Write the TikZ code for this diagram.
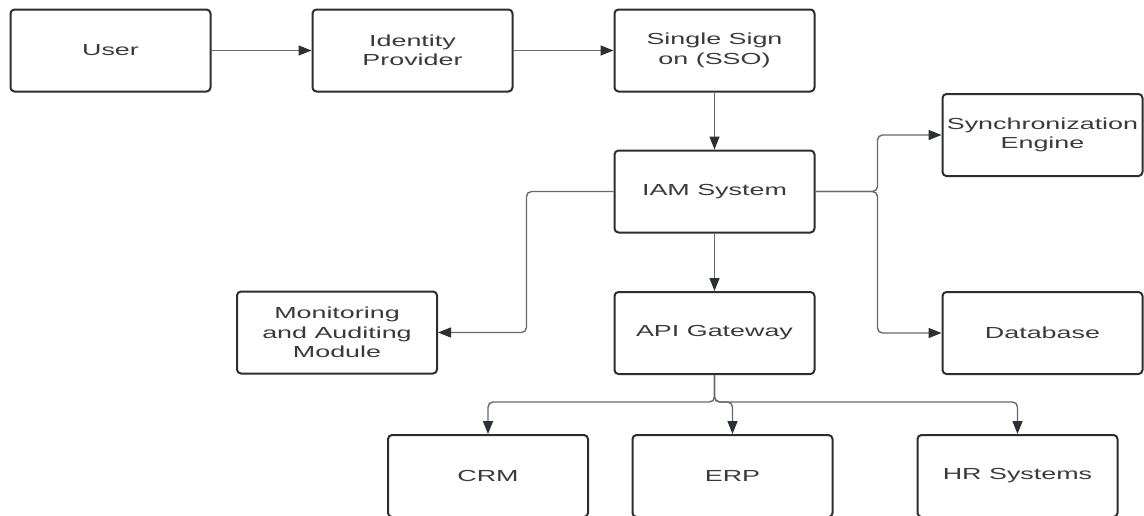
\documentclass[tikz,border=0pt]{standalone}
\usepackage{fontspec}
\newfontfamily\boxfont{Liberation Sans}[FakeStretch=1.68]
\usetikzlibrary{arrows.meta}
\definecolor{boxline}{RGB}{45,45,48}
\definecolor{txt}{RGB}{58,58,60}
\definecolor{conncol}{RGB}{105,105,110}
\definecolor{tipcol}{RGB}{45,47,54}
\begin{document}
\begin{tikzpicture}[x=1pt,y=-1pt,
  box/.style={draw=boxline, line width=2pt, rounded corners=4pt, fill=white,
    minimum width=200pt, minimum height=82pt, inner sep=0pt, align=center,
    text=txt, font=\boxfont\fontsize{16}{19.5}\selectfont},
  conn/.style={draw=conncol, line width=1.4pt, rounded corners=5pt,
    -{Triangle[length=13pt,width=10pt,fill=tipcol,color=tipcol]}}]
\useasboundingbox (0,0) rectangle (1144,515);
\clip (0,0) rectangle (1144,515);
\fill[white] (0,0) rectangle (1144,515);
\node[box] (user) at (110.5,50.5) {User};
\node[box] (idp)  at (412.5,50.5) {Identity\\Provider};
\node[box] (sso)  at (714.5,50.5) {Single Sign\\on (SSO)};
\node[box] (iam)  at (714.5,191.5) {IAM System};
\node[box] (sync) at (1042.5,135) {Synchronization\\Engine};
\node[box] (mon)  at (337,332.5) {Monitoring\\and Auditing\\Module};
\node[box] (api)  at (714.5,333) {API Gateway};
\node[box] (db)   at (1042.5,333) {Database};
\node[box] (crm)  at (488,476) {CRM};
\node[box] (erp)  at (732.5,476) {ERP};
\node[box] (hr)   at (1017.5,476) {HR Systems};
\draw[conn] (user) -- (idp);
\draw[conn] (idp) -- (sso);
\draw[conn] (sso) -- (iam);
\draw[conn] (iam) -- (api);
\draw[conn] (iam.east) -- ++(62,0) |- (sync.west);
\draw[conn] (iam.east) -- ++(62,0) |- (db.west);
\draw[conn] (iam.west) -- ++(-87,0) |- (mon.east);
\draw[conn] (api.south) -- ++(0,27) -| (crm.north);
\draw[conn] (api.south) -- ++(0,27) -| (erp.north);
\draw[conn] (api.south) -- ++(0,27) -| (hr.north);
\end{tikzpicture}
\end{document}
